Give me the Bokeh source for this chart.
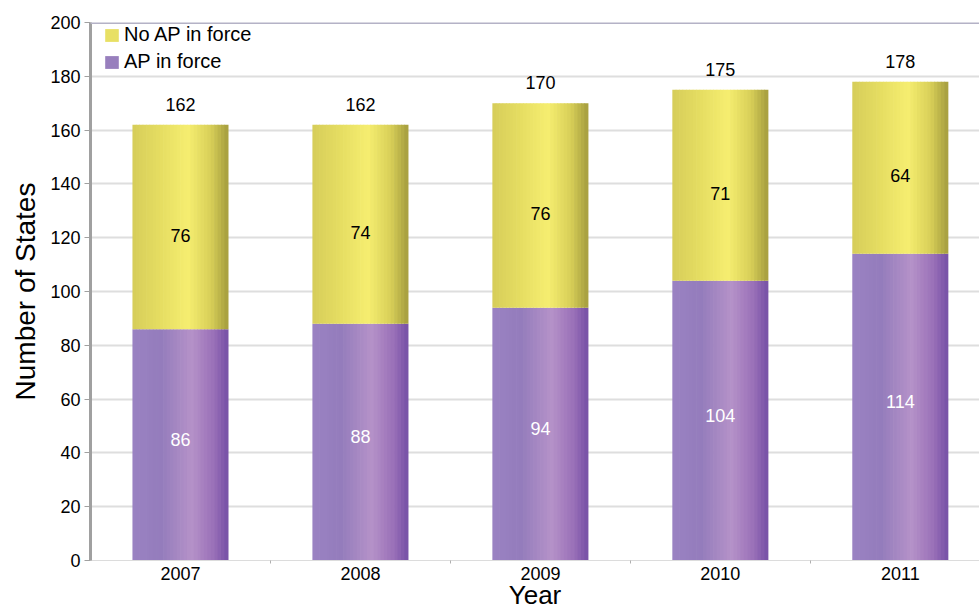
from bokeh.plotting import figure
from bokeh.models import ColumnDataSource, Range1d, FixedTicker, Span, Legend, LegendItem
from bokeh.transform import dodge
from bokeh.core.properties import value
from bokeh.embed import file_html
from bokeh.resources import INLINE

# ---- data ----
years = ["2007", "2008", "2009", "2010", "2011"]
ap_in_force = [86, 88, 94, 104, 114]
no_ap_in_force = [76, 74, 76, 71, 64]
totals = [162, 162, 170, 175, 178]
y_ticks = [0, 20, 40, 60, 80, 100, 120, 140, 160, 180, 200]

FONT = "Liberation Sans"
xs = list(range(len(years)))
src = ColumnDataSource(dict(
    x=xs,
    ap=ap_in_force,
    no_ap=no_ap_in_force,
    total=totals,
    ap_mid=[a / 2 + 2 for a in ap_in_force],
    no_mid=[a + n / 2 - 3 for a, n in zip(ap_in_force, no_ap_in_force)],
    zero=[0] * len(xs),
    ap_lbl=[str(v) for v in ap_in_force],
    no_lbl=[str(v) for v in no_ap_in_force],
    tot_lbl=[str(v) for v in totals],
))

p = figure(width=979, height=612, output_backend="svg", toolbar_location=None,
           x_range=Range1d(-0.5, 4.44), y_range=Range1d(0, 200),
           min_border_left=90, min_border_top=22, min_border_right=0, min_border_bottom=49)
p.outline_line_color = None
p.background_fill_color = "white"

# gradient helper
def hex2rgb(h):
    h = h.lstrip("#")
    return tuple(int(h[i:i + 2], 16) for i in (0, 2, 4))

def grad(stops, t):
    for (t0, c0), (t1, c1) in zip(stops, stops[1:]):
        if t0 <= t <= t1:
            f = (t - t0) / (t1 - t0) if t1 > t0 else 0
            a, b = hex2rgb(c0), hex2rgb(c1)
            return "#%02x%02x%02x" % tuple(int(round(a[k] + (b[k] - a[k]) * f)) for k in range(3))
    return stops[-1][1]

purple_stops = [(0.0, "#9a82c2"), (0.3, "#947cbc"), (0.62, "#b592c8"), (0.85, "#9a70b8"), (1.0, "#7650a6")]
yellow_stops = [(0.0, "#d6cd5a"), (0.3, "#e6de62"), (0.58, "#f6ee70"), (0.82, "#d8cf58"), (1.0, "#a59d3e")]

W = 0.53
N = 28
sw = W / N
purple_r = yellow_r = None
for i in range(N):
    t = (i + 0.5) / N
    off = -W / 2 + (i + 0.5) * sw
    r1 = p.vbar(x=dodge("x", off), width=sw * 1.2, bottom="zero", top="ap", source=src,
                fill_color=grad(purple_stops, t), line_color=None)
    r2 = p.vbar(x=dodge("x", off), width=sw * 1.2, bottom="ap", top="total", source=src,
                fill_color=grad(yellow_stops, t), line_color=None)
    if i == N // 3:
        purple_r, yellow_r = r1, r2

# labels
p.text(x="x", y="ap_mid", text="ap_lbl", source=src, text_align="center", text_baseline="middle",
       text_font=value(FONT), text_font_size="18px", text_color="white")
p.text(x="x", y="no_mid", text="no_lbl", source=src, text_align="center", text_baseline="middle",
       text_font=value(FONT), text_font_size="18px", text_color="black")
p.text(x="x", y="total", text="tot_lbl", source=src, text_align="center", text_baseline="bottom",
       y_offset=-14, text_font=value(FONT), text_font_size="18px", text_color="black")

# top line at 200
p.add_layout(Span(location=200, dimension="width", line_color="#b4b2c6", line_width=3))

# axes
p.yaxis.ticker = FixedTicker(ticks=y_ticks)
p.yaxis.axis_label = "Number of States"
p.yaxis.axis_label_text_font = FONT
p.yaxis.axis_label_text_font_size = "28px"
p.yaxis.axis_label_text_font_style = "normal"
p.yaxis.axis_label_text_color = "black"
p.yaxis.axis_label_standoff = 6
p.yaxis.major_label_text_font = FONT
p.yaxis.major_label_text_font_size = "18px"
p.yaxis.major_label_text_color = "black"
p.yaxis.axis_line_color = "#a0a0a0"
p.yaxis.axis_line_width = 3
p.yaxis.major_tick_line_color = "#a0a0a0"
p.yaxis.major_tick_out = 6
p.yaxis.major_tick_in = 0
p.yaxis.minor_tick_line_color = None
p.yaxis.major_label_standoff = 4

p.xaxis.ticker = FixedTicker(ticks=xs, minor_ticks=[0.5, 1.5, 2.5, 3.5])
p.xaxis.major_label_overrides = {i: y for i, y in enumerate(years)}
p.xaxis.major_label_text_font = FONT
p.xaxis.major_label_text_font_size = "18px"
p.xaxis.major_label_text_color = "black"
p.xaxis.major_label_standoff = 3
p.xaxis.axis_line_color = "#dcdcdc"
p.xaxis.major_tick_line_color = None
p.xaxis.major_tick_out = 0
p.xaxis.minor_tick_line_color = "#b0b0b0"
p.xaxis.minor_tick_out = 3
p.xaxis.minor_tick_in = 0
p.xaxis.axis_label = "Year"
p.xaxis.axis_label_text_font = FONT
p.xaxis.axis_label_text_font_size = "26px"
p.xaxis.axis_label_text_font_style = "normal"
p.xaxis.axis_label_text_color = "black"
p.xaxis.axis_label_standoff = -3

p.xgrid.grid_line_color = None
p.ygrid.grid_line_color = "#dedede"
p.ygrid.grid_line_width = 2

legend = Legend(items=[LegendItem(label="No AP in force", renderers=[yellow_r]),
                       LegendItem(label="AP in force", renderers=[purple_r])],
                location=(13, 487), background_fill_alpha=0, border_line_color=None,
                label_text_font=FONT, label_text_font_size="20px", label_text_color="black",
                glyph_width=17, glyph_height=16, spacing=4, padding=0, margin=0,
                label_standoff=4, label_height=20)
p.add_layout(legend)

open("out.html", "w").write(file_html(p, INLINE))
